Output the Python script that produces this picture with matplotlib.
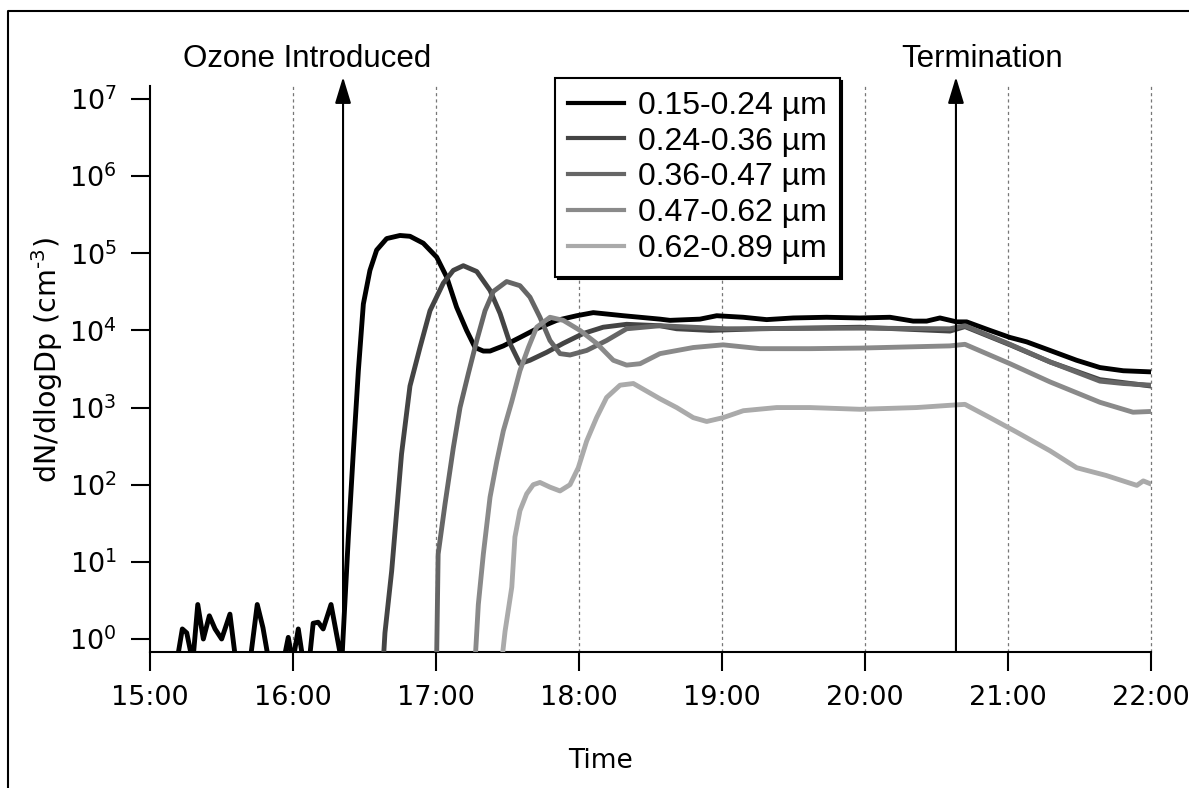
import matplotlib
matplotlib.use("Agg")
import matplotlib.pyplot as plt
from matplotlib.lines import Line2D
from matplotlib.ticker import FixedLocator, NullLocator

# ---------------- data (time in decimal hours, dN/dlogDp in cm^-3) ----------------
labels = ["0.15-0.24 µm", "0.24-0.36 µm", "0.36-0.47 µm", "0.47-0.62 µm", "0.62-0.89 µm"]
colors = ["#000000", "#444444", "#666666", "#8a8a8a", "#aaaaaa"]

t1 = [15.187, 15.226, 15.257, 15.299, 15.334, 15.373, 15.415, 15.455, 15.501, 15.559,
      15.601, 15.699, 15.750, 15.790, 15.832, 15.932, 15.967, 15.998, 16.037, 16.072,
      16.113, 16.141, 16.176, 16.211, 16.266, 16.341, 16.387, 16.421, 16.457, 16.492,
      16.538, 16.585, 16.655, 16.748, 16.818, 16.911, 17.005, 17.075, 17.144, 17.214,
      17.273, 17.331, 17.378, 17.471, 17.587, 17.704, 17.844, 17.984, 18.100, 18.310,
      18.566, 18.636, 18.846, 18.963, 19.149, 19.312, 19.498, 19.731, 19.964, 20.175,
      20.337, 20.431, 20.524, 20.641, 20.711, 20.874, 21.014, 21.131, 21.294, 21.480,
      21.643, 21.806, 22.000]
v1 = [0.5, 1.35, 1.2, 0.5, 2.8, 1.0, 2.0, 1.35, 1.0, 2.1,
      0.5, 0.5, 2.8, 1.4, 0.5, 0.5, 1.05, 0.5, 1.35, 0.5,
      0.5, 1.6, 1.65, 1.35, 2.8, 0.5, 21, 250, 3000, 2.2e4,
      6.0e4, 1.1e5, 1.55e5, 1.7e5, 1.66e5, 1.35e5, 8.9e4, 4.9e4, 2.0e4, 1.0e4,
      6.0e3, 5.4e3, 5.4e3, 6.3e3, 8.1e3, 1.05e4, 1.35e4, 1.55e4, 1.7e4, 1.55e4,
      1.4e4, 1.35e4, 1.4e4, 1.55e4, 1.48e4, 1.38e4, 1.45e4, 1.48e4, 1.45e4, 1.48e4,
      1.32e4, 1.32e4, 1.45e4, 1.29e4, 1.29e4, 1.0e4, 8.1e3, 7.1e3, 5.5e3, 4.1e3,
      3.3e3, 3.0e3, 2.9e3]

t2 = [16.631, 16.643, 16.690, 16.759, 16.818, 16.888, 16.958, 17.051, 17.121, 17.191,
      17.285, 17.378, 17.448, 17.517, 17.587, 17.657, 17.774, 17.890, 18.029, 18.169,
      18.333, 18.566, 18.683, 18.916, 19.266, 19.965, 20.594, 20.699, 21.014, 21.294,
      21.643, 22.000]
v2 = [0.5, 1.2, 7.6, 250, 1.9e3, 6.0e3, 1.8e4, 4.1e4, 6.0e4, 6.9e4,
      5.8e4, 3.3e4, 1.66e4, 6.8e3, 3.7e3, 4.1e3, 5.2e3, 6.8e3, 9.1e3, 1.1e4,
      1.2e4, 1.15e4, 1.05e4, 1.0e4, 1.05e4, 1.1e4, 9.8e3, 1.12e4, 6.5e3, 3.9e3,
      2.3e3, 1.9e3]

t3 = [17.004, 17.015, 17.063, 17.121, 17.168, 17.226, 17.285, 17.343, 17.401, 17.494,
      17.587, 17.657, 17.727, 17.797, 17.867, 17.937, 18.054, 18.193, 18.333, 18.566,
      19.032, 19.965, 20.594, 20.699, 21.014, 21.294, 21.643, 21.806, 22.000]
v3 = [0.5, 12.6, 56, 300, 1.0e3, 2.75e3, 7.4e3, 1.8e4, 3.2e4, 4.3e4,
      3.8e4, 2.7e4, 1.48e4, 7.4e3, 5.0e3, 4.8e3, 5.5e3, 7.4e3, 1.05e4, 1.15e4,
      1.05e4, 1.07e4, 1.05e4, 1.15e4, 6.6e3, 3.9e3, 2.2e3, 2.05e3, 1.95e3]

t4 = [17.273, 17.296, 17.331, 17.378, 17.425, 17.471, 17.530, 17.587, 17.646, 17.704,
      17.797, 17.890, 18.007, 18.123, 18.240, 18.333, 18.427, 18.566, 18.799, 19.008,
      19.266, 19.615, 19.965, 20.594, 20.699, 21.014, 21.294, 21.643, 21.874, 22.000]
v4 = [0.5, 2.8, 12.6, 69, 200, 500, 1.2e3, 3.0e3, 6.0e3, 1.1e4,
      1.48e4, 1.35e4, 1.0e4, 6.8e3, 4.1e3, 3.55e3, 3.7e3, 5.0e3, 6.0e3, 6.5e3,
      5.8e3, 5.8e3, 5.9e3, 6.3e3, 6.6e3, 3.7e3, 2.15e3, 1.17e3, 870, 890]

t5 = [17.459, 17.483, 17.530, 17.552, 17.587, 17.634, 17.680, 17.727, 17.797, 17.867,
      17.937, 17.995, 18.054, 18.123, 18.193, 18.287, 18.380, 18.566, 18.683, 18.799,
      18.893, 19.008, 19.149, 19.382, 19.615, 19.965, 20.360, 20.594, 20.699, 20.874,
      21.061, 21.294, 21.480, 21.685, 21.901, 21.946, 22.000]
v5 = [0.5, 1.26, 4.7, 21, 46, 76, 100, 107, 93, 83,
      100, 166, 370, 740, 1.35e3, 1.95e3, 2.05e3, 1.3e3, 1.0e3, 740,
      660, 740, 910, 1.0e3, 1.0e3, 950, 1.0e3, 1.07e3, 1.1e3, 740,
      480, 275, 166, 132, 98, 112, 102]

hour_ticks = [15, 16, 17, 18, 19, 20, 21, 22]
hour_labels = ["15:00", "16:00", "17:00", "18:00", "19:00", "20:00", "21:00", "22:00"]
decade_ticks = [1e0, 1e1, 1e2, 1e3, 1e4, 1e5, 1e6, 1e7]
decade_labels = [r"$10^{%d}$" % i for i in range(8)]

ozone_time = 16.35
termination_time = 20.636

# ---------------- figure ----------------
W, H = 1189, 788
fig = plt.figure(figsize=(W / 100, H / 100), dpi=100)
ax = fig.add_axes([150 / W, 1 - 651.5 / H, 1001 / W, 565.5 / H])

tick_font = "DejaVu Sans"
label_font = ["Liberation Sans", "DejaVu Sans"]

for t, v, c, lab in zip([t1, t2, t3, t4, t5], [v1, v2, v3, v4, v5], colors, labels):
    ax.plot(t, v, color=c, lw=3.5, label=lab, solid_joinstyle="round", zorder=3)

ax.set_yscale("log")
ax.set_xlim(15, 22)
ax.set_ylim(10 ** -0.162, 10 ** 7.168)

for h in hour_ticks[1:]:
    ax.axvline(h, color="#777777", lw=0.9, ls=(0, (2.5, 2.5)), zorder=1, clip_on=False)

ax.xaxis.set_major_locator(FixedLocator(hour_ticks))
ax.set_xticklabels(hour_labels)
ax.yaxis.set_major_locator(FixedLocator(decade_ticks))
ax.yaxis.set_minor_locator(NullLocator())
ax.set_yticklabels(decade_labels)

for s in ["top", "right"]:
    ax.spines[s].set_visible(False)
for s in ["left", "bottom"]:
    ax.spines[s].set_linewidth(1.5)
ax.tick_params(axis="both", which="major", direction="out", length=14, width=1.5,
               labelsize=19.5, pad=10)
for lbl in ax.get_xticklabels() + ax.get_yticklabels():
    lbl.set_fontfamily(tick_font)

ax.set_xlabel("Time", fontsize=19, fontfamily=tick_font)
ax.xaxis.set_label_coords(0.4496, -0.17)
ax.xaxis.label.set_va("top")
ax.set_ylabel("dN/dlogDp (cm$^{\u2010 3}$)", fontsize=20.5, fontfamily=tick_font)
ax.yaxis.set_label_coords(-0.085, 0.515)

# arrows
for tt in [ozone_time, termination_time]:
    ax.annotate("", xy=(tt, 1.016), xycoords=("data", "axes fraction"),
                xytext=(tt, 0.0), textcoords=("data", "axes fraction"),
                arrowprops=dict(arrowstyle="-|>,head_length=1.15,head_width=0.35",
                                mutation_scale=14, lw=1.5, color="k",
                                shrinkA=0, shrinkB=0),
                annotation_clip=False, zorder=4)

fig.text(307 / W, 1 - 67 / H, "Ozone Introduced", ha="center", va="baseline",
         fontsize=22.5, fontfamily=label_font)
fig.text(982 / W, 1 - 67 / H, "Termination", ha="center", va="baseline",
         fontsize=22.5, fontfamily=label_font)

leg = ax.legend(loc="upper left", bbox_to_anchor=(555 / W, 1 - 78 / H),
                bbox_transform=fig.transFigure,
                prop={"family": label_font, "size": 23},
                frameon=True, fancybox=False,
                shadow={"facecolor": "black", "edgecolor": "black", "alpha": 1},
                handlelength=1.75, handletextpad=0.45, labelspacing=0.18,
                borderpad=0.4, borderaxespad=0)
leg.get_frame().set_edgecolor("black")
leg.get_frame().set_linewidth(1.5)
for ln in leg.get_lines():
    ln.set_linewidth(3.0)
leg.set_zorder(5)

# outer frame (left and top edges)
fig.add_artist(Line2D([8 / W, 8 / W, 1.0], [0.0, 1 - 11 / H, 1 - 11 / H],
                      transform=fig.transFigure, color="black", lw=1.5))

fig.savefig("out.png", dpi=100)
